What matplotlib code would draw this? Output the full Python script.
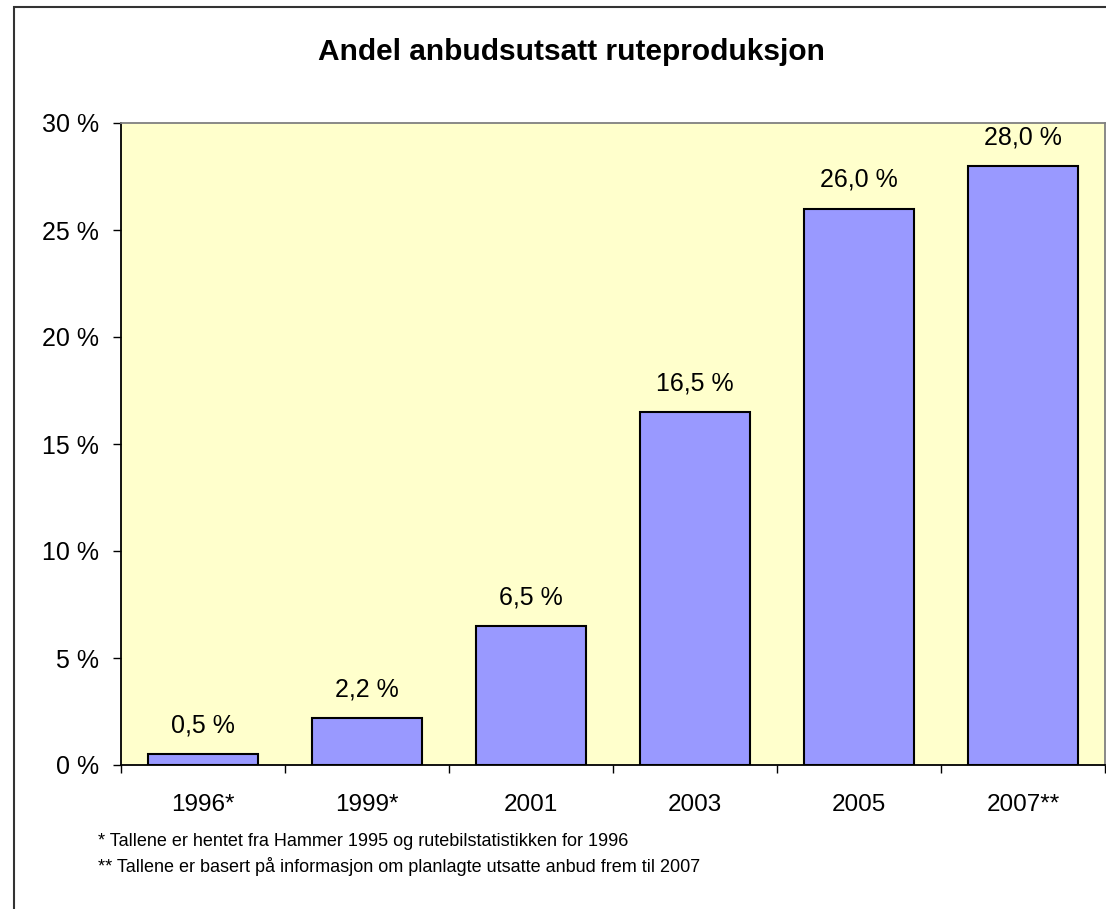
import matplotlib
matplotlib.use("Agg")
import matplotlib.pyplot as plt
import matplotlib.patches as patches
import numpy as np

# data
years = ['1996*', '1999*', '2001', '2003', '2005', '2007**']
share = [0.5, 2.2, 6.5, 16.5, 26.0, 28.0]
value_labels = ['0,5 %', '2,2 %', '6,5 %', '16,5 %', '26,0 %', '28,0 %']
yticks = [0, 5, 10, 15, 20, 25, 30]
notes = ['* Tallene er hentet fra Hammer 1995 og rutebilstatistikken for 1996',
         '** Tallene er basert på informasjon om planlagte utsatte anbud frem til 2007']

plt.rcParams['font.family'] = ['Liberation Sans', 'DejaVu Sans']

W, H = 1106, 909
fig = plt.figure(figsize=(W / 100, H / 100), dpi=100)
ax = fig.add_axes([121 / W, 1 - 765 / H, (1105 - 121) / W, (765 - 123) / H])

x = np.arange(len(years))
bars = ax.bar(x, share, width=0.67, color='#9999FF', edgecolor='black', linewidth=1.5, zorder=2)
ax.set_facecolor('#FFFFCC')
ax.set_xlim(-0.5, len(years) - 0.5)
ax.set_ylim(0, 30)

for b, lab in zip(bars, value_labels):
    ax.annotate(lab, (b.get_x() + b.get_width() / 2, b.get_height()),
                xytext=(0, 12), textcoords='offset points',
                ha='center', va='bottom', fontsize=18)

ax.set_yticks(yticks)
ax.set_yticklabels(['%d %%' % t for t in yticks], fontsize=18)
ax.tick_params(axis='y', direction='out', length=6, width=1, pad=10)

# ticks on category borders, labels centred on the bars
ax.set_xticks(np.arange(len(years) + 1) - 0.5)
ax.set_xticklabels([])
ax.set_xticks(x, minor=True)
ax.set_xticklabels(years, minor=True, fontsize=17.5)
ax.tick_params(axis='x', which='major', direction='out', length=6, width=1)
ax.tick_params(axis='x', which='minor', length=0, pad=21)

for s in ['left', 'bottom']:
    ax.spines[s].set_color('black')
    ax.spines[s].set_linewidth(1.3)
for s in ['top', 'right']:
    ax.spines[s].set_color('#808080')
    ax.spines[s].set_linewidth(1.3)

fig.text(571 / W, 1 - 52 / H, 'Andel anbudsutsatt ruteproduksjon',
         ha='center', va='center', fontsize=21.5, fontweight='bold')

fig.text(98 / W, 1 - 841 / H, notes[0], ha='left', va='center', fontsize=13)
fig.text(98 / W, 1 - 866 / H, notes[1], ha='left', va='center', fontsize=13)

# outer chart border (runs off the right and bottom edges)
border = patches.Rectangle((13.5 / W, -0.1), 1.2, 1.1 - 7.5 / H, transform=fig.transFigure,
                           fill=False, edgecolor='#333333', linewidth=1.5)
fig.patches.append(border)

fig.savefig('out.png', dpi=100)
